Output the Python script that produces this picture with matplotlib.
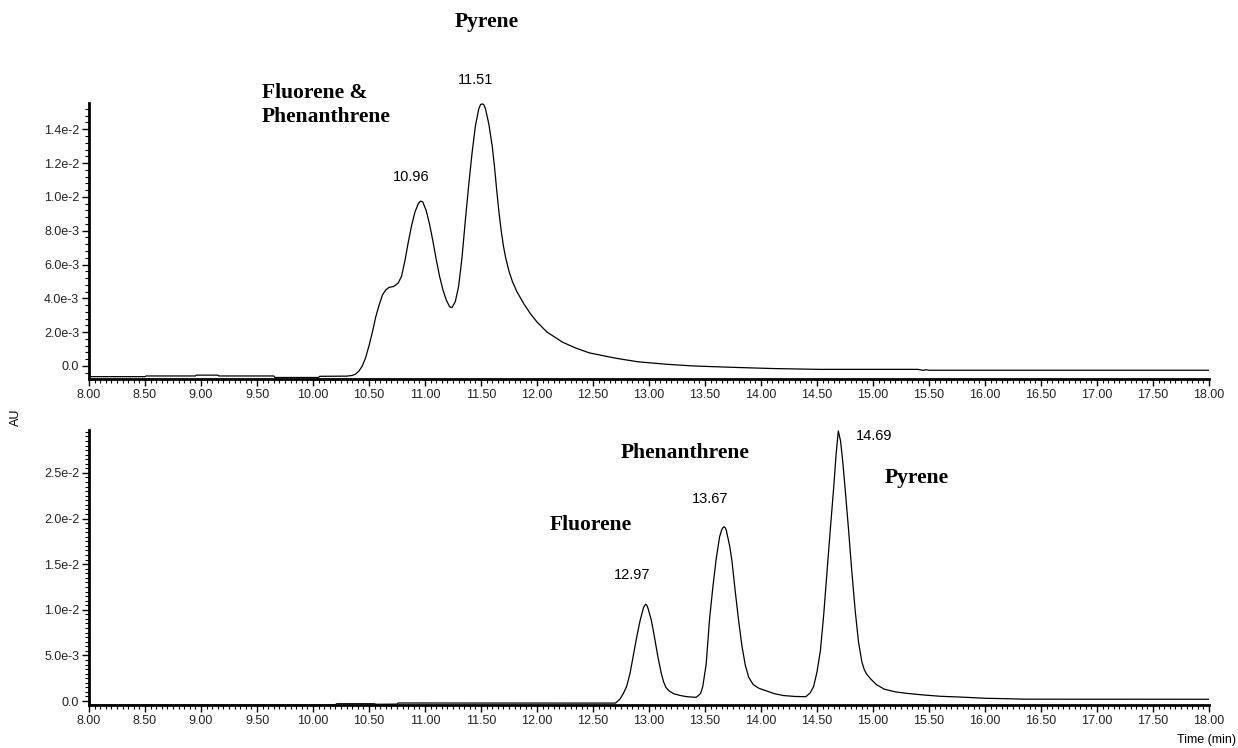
import matplotlib
matplotlib.use("Agg")
import matplotlib.pyplot as plt
from matplotlib.ticker import MultipleLocator, FuncFormatter

# run 1: mixture, fluorene and phenanthrene co-elute ahead of pyrene
t_mix = [8.00, 8.50, 8.51, 8.95, 8.96, 9.15, 9.16, 9.65, 9.66, 10.05, 10.06, 10.30,
         10.35, 10.38, 10.41, 10.44, 10.47, 10.50, 10.53, 10.56, 10.59, 10.62, 10.65,
         10.68, 10.72, 10.76, 10.79, 10.82, 10.85, 10.88, 10.91, 10.94, 10.96, 10.98,
         11.01, 11.04, 11.07, 11.10, 11.13, 11.16, 11.19, 11.22, 11.24, 11.27, 11.30,
         11.33, 11.36, 11.39, 11.42, 11.45, 11.48, 11.495, 11.51, 11.525, 11.54, 11.57,
         11.60, 11.62, 11.64, 11.66, 11.68, 11.70, 11.72, 11.75, 11.78, 11.82, 11.88,
         11.94, 12.00, 12.09, 12.23, 12.35, 12.47, 12.71, 12.90, 13.16, 13.40, 13.75,
         14.10, 14.53, 15.40, 15.45, 15.47, 15.50, 18.00]
au_mix = [-6.3e-4, -6.3e-4, -5.9e-4, -5.9e-4, -5.4e-4, -5.4e-4, -5.9e-4, -5.9e-4,
          -6.8e-4, -6.8e-4, -6.1e-4, -6.0e-4,
          -5.6e-4, -4.8e-4, -3.0e-4, 0.0, 5.0e-4, 1.2e-3, 2.0e-3, 2.9e-3, 3.6e-3,
          4.2e-3, 4.5e-3, 4.65e-3, 4.7e-3, 4.9e-3, 5.3e-3, 6.2e-3, 7.3e-3, 8.3e-3,
          9.1e-3, 9.6e-3, 9.75e-3, 9.7e-3, 9.2e-3, 8.4e-3, 7.4e-3, 6.3e-3, 5.3e-3,
          4.5e-3, 3.9e-3, 3.5e-3, 3.45e-3, 3.8e-3, 4.7e-3, 6.4e-3, 8.6e-3, 1.07e-2,
          1.26e-2, 1.42e-2, 1.52e-2, 1.545e-2, 1.55e-2, 1.545e-2, 1.52e-2, 1.43e-2,
          1.30e-2, 1.18e-2, 1.04e-2, 9.1e-3, 8.0e-3, 7.1e-3, 6.4e-3, 5.6e-3, 5.0e-3,
          4.4e-3, 3.7e-3, 3.1e-3, 2.6e-3, 2.0e-3, 1.4e-3, 1.05e-3, 7.7e-4, 4.5e-4,
          2.5e-4, 1.0e-4, 0.0, -8e-5, -1.5e-4, -2.0e-4,
          -2.0e-4, -2.6e-4, -2.2e-4, -2.5e-4, -2.5e-4]

# run 2: three resolved peaks
t_sep = [8.00, 10.20, 10.21, 10.55, 10.56, 10.75, 10.76, 12.60, 12.70, 12.74, 12.77,
         12.80, 12.83, 12.86, 12.89, 12.92, 12.95, 12.96, 12.97, 12.98, 12.99, 13.02,
         13.05, 13.08, 13.11, 13.13, 13.15, 13.18, 13.22, 13.28, 13.34, 13.42, 13.46,
         13.48, 13.51, 13.54, 13.57, 13.60, 13.63, 13.65, 13.66, 13.67, 13.68, 13.69,
         13.72, 13.74, 13.77, 13.80, 13.83, 13.86, 13.89, 13.93, 13.98, 14.05, 14.12,
         14.20, 14.30, 14.40, 14.44, 14.47, 14.50, 14.53, 14.56, 14.59, 14.62, 14.65,
         14.67, 14.69, 14.71, 14.73, 14.75, 14.78, 14.81, 14.84, 14.87, 14.90, 14.92,
         14.94, 14.98, 15.03, 15.10, 15.20, 15.30, 15.45, 15.60, 15.80, 16.00, 16.20,
         16.35, 18.00]
au_sep = [-4.4e-4, -4.4e-4, -3.0e-4, -3.0e-4, -3.6e-4, -3.4e-4, -2.2e-4, -2.3e-4,
          -2.3e-4, 2.0e-4, 8.0e-4, 1.6e-3, 3.0e-3, 5.0e-3, 7.0e-3, 8.8e-3, 1.02e-2,
          1.045e-2, 1.06e-2, 1.05e-2, 1.02e-2, 8.9e-3, 6.9e-3, 4.8e-3, 3.0e-3, 2.1e-3,
          1.5e-3, 1.1e-3, 8.0e-4, 6.0e-4, 4.7e-4, 4.0e-4, 8.0e-4,
          1.6e-3, 4.0e-3, 8.9e-3, 1.25e-2, 1.56e-2, 1.80e-2, 1.88e-2, 1.90e-2,
          1.91e-2, 1.90e-2, 1.87e-2, 1.70e-2, 1.54e-2, 1.20e-2, 8.8e-3, 6.0e-3,
          3.9e-3, 2.6e-3, 1.8e-3, 1.4e-3, 1.1e-3, 8.0e-4, 6.0e-4, 5.0e-4, 4.7e-4,
          9.0e-4, 1.6e-3, 3.2e-3, 5.5e-3, 9.5e-3, 1.43e-2, 1.90e-2, 2.36e-2, 2.70e-2,
          2.96e-2, 2.85e-2, 2.62e-2, 2.34e-2, 1.90e-2, 1.43e-2, 1.00e-2, 6.5e-3,
          4.3e-3, 3.5e-3, 3.0e-3, 2.4e-3, 1.8e-3, 1.3e-3, 1.0e-3, 8.4e-4, 6.6e-4,
          5.2e-4, 4.2e-4, 3.0e-4, 2.5e-4, 2.0e-4, 1.9e-4]

# retention-time labels (time, height) and their offsets in points
rt_mix = [(10.96, 9.75e-3, (-7, 12)), (11.51, 1.55e-2, (-5, 12))]
rt_sep = [(12.97, 1.06e-2, (-10, 16)), (13.67, 1.91e-2, (-10, 15)),
          (14.69, 2.96e-2, (26, -9))]

tick_font = "Liberation Sans"
name_font = "Liberation Serif"


def sci(v, pos):
    if abs(v) < 1e-12:
        return "0.0"
    m, e = ("%.1e" % v).split("e")
    return "%se%d" % (m, int(e))


def style_axes(ax, ymin, ymax, ymajor, yminor):
    ax.set_xlim(8.0, 18.0)
    ax.set_ylim(ymin, ymax)
    ax.xaxis.set_major_locator(MultipleLocator(0.5))
    ax.xaxis.set_minor_locator(MultipleLocator(0.05))
    ax.yaxis.set_major_locator(MultipleLocator(ymajor))
    ax.yaxis.set_minor_locator(MultipleLocator(yminor))
    ax.xaxis.set_major_formatter(FuncFormatter(lambda v, p: "%.2f" % v))
    ax.yaxis.set_major_formatter(FuncFormatter(sci))
    for s in ["top", "right"]:
        ax.spines[s].set_visible(False)
    for s in ["left", "bottom"]:
        ax.spines[s].set_linewidth(2.0)
    ax.tick_params(which="major", length=5, width=1, labelsize=9,
                   labelcolor="#222222", pad=2)
    ax.tick_params(which="minor", length=3, width=0.8)
    for lab in ax.get_xticklabels() + ax.get_yticklabels():
        lab.set_fontfamily(tick_font)


fig = plt.figure(figsize=(12.38, 7.48), dpi=100)
ax1 = fig.add_axes([0.0719, 0.4933, 0.9047, 0.369])
ax2 = fig.add_axes([0.0719, 0.0571, 0.9047, 0.368])

ax1.plot(t_mix, au_mix, color="black", lw=0.9)
ax2.plot(t_sep, au_sep, color="black", lw=0.9)

style_axes(ax1, -7.7e-4, 1.555e-2, 2e-3, 4e-4)
style_axes(ax2, -4.7e-4, 2.97e-2, 5e-3, 5e-4)

for ax, peaks in [(ax1, rt_mix), (ax2, rt_sep)]:
    for t, h, off in peaks:
        ax.annotate("%.2f" % t, (t, h), xytext=off, textcoords="offset points",
                    ha="center", va="bottom", fontsize=10.5, family=tick_font)

fig.text(487 / 1238, 1 - 22 / 748, "Pyrene", ha="center", va="center",
         fontsize=15.5, fontweight="bold", family=name_font)
fig.text(262 / 1238, 1 - 105 / 748, "Fluorene &\nPhenanthrene", ha="left",
         va="center", fontsize=15.5, fontweight="bold", family=name_font,
         linespacing=1.3)
fig.text(685 / 1238, 1 - 453 / 748, "Phenanthrene", ha="center", va="center",
         fontsize=15.5, fontweight="bold", family=name_font)
fig.text(591 / 1238, 1 - 525 / 748, "Fluorene", ha="center", va="center",
         fontsize=15.5, fontweight="bold", family=name_font)
fig.text(917 / 1238, 1 - 478 / 748, "Pyrene", ha="center", va="center",
         fontsize=15.5, fontweight="bold", family=name_font)

fig.text(16 / 1238, 1 - 417 / 748, "AU", rotation=90, ha="center", va="center",
         fontsize=9, family=tick_font)
fig.text(1236 / 1238, 1 - 740 / 748, "Time (min)", ha="right", va="center",
         fontsize=9, family=tick_font)

fig.savefig("out.png", dpi=100)
